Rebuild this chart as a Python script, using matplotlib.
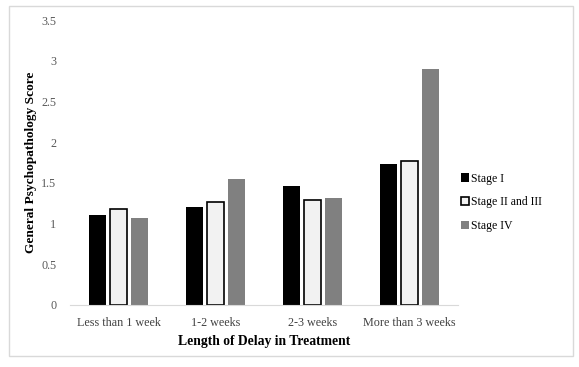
import numpy as np
import matplotlib.pyplot as plt
from matplotlib.patches import FancyBboxPatch

categories = ["Less than 1 week", "1-2 weeks", "2-3 weeks", "More than 3 weeks"]
stage_names = ["Stage I", "Stage II and III", "Stage IV"]
stage_1 = [1.10, 1.21, 1.46, 1.73]
stage_2_3 = [1.18, 1.27, 1.29, 1.77]
stage_4 = [1.07, 1.55, 1.31, 2.90]
yticks = [0, 0.5, 1, 1.5, 2, 2.5, 3, 3.5]

plt.rcParams['font.family'] = ['Liberation Serif', 'DejaVu Serif']

fig = plt.figure(figsize=(5.79, 3.67), dpi=100)
frame = FancyBboxPatch((0.015, 0.03), 0.975, 0.955, boxstyle="square,pad=0",
                       transform=fig.transFigure, fill=False,
                       edgecolor="#d9d9d9", linewidth=1.0)
fig.patches.append(frame)

ax = fig.add_axes([0.121, 0.169, 0.67, 0.776])
x = np.arange(len(categories))
w = 0.175
step = 0.22
ax.bar(x - step, stage_1, w, color="black", label=stage_names[0])
ax.bar(x, stage_2_3, w, color="#f2f2f2", edgecolor="black", linewidth=1.2,
       label=stage_names[1])
ax.bar(x + step, stage_4, w, color="#808080", label=stage_names[2])

ax.set_xlim(-0.5, 3.5)
ax.set_ylim(0, 3.5)
ax.set_yticks(yticks)
ax.set_yticklabels([f"{t:g}" for t in yticks])
ax.set_xticks(x)
ax.set_xticklabels(categories)
ax.tick_params(axis="both", length=0, labelsize=8.7, colors="#595959")
ax.tick_params(axis="x", pad=9, colors="#404040")
ax.tick_params(axis="y", pad=10)
for s in ["top", "right", "left"]:
    ax.spines[s].set_visible(False)
ax.spines["bottom"].set_color("#d9d9d9")

ax.set_xlabel("Length of Delay in Treatment", fontsize=9.8, fontweight="bold",
              labelpad=4)
ax.set_ylabel("General Psychopathology Score", fontsize=9.6, fontweight="bold",
              labelpad=3)

ax.legend(loc="center left", bbox_to_anchor=(0.98, 0.36), frameon=False,
          fontsize=8.5, handlelength=0.7, handleheight=0.7, handletextpad=0.2,
          labelspacing=1.0)

fig.savefig("out.png", dpi=100)
